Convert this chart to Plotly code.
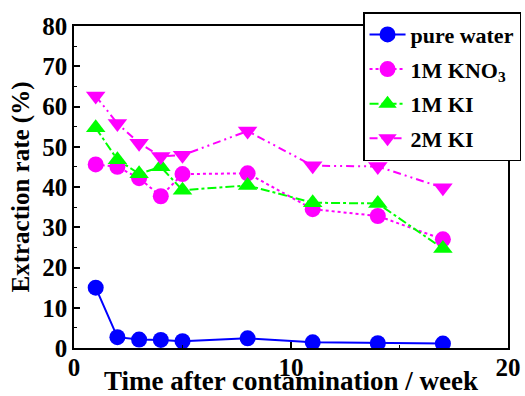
import plotly.graph_objects as go

weeks = [1, 2, 3, 4, 5, 8, 11, 14, 17]
pure_water = [15.0, 2.7, 2.1, 2.0, 1.7, 2.4, 1.4, 1.2, 1.1]
kno3_1m = [45.6, 45.0, 42.2, 37.7, 43.2, 43.4, 34.5, 32.8, 27.0]
ki_1m = [54.7, 46.8, 43.3, 45.0, 39.2, 40.4, 36.1, 35.9, 24.7]
ki_2m = [62.6, 55.8, 50.9, 47.6, 47.9, 53.9, 45.3, 45.1, 39.8]

series_names = ["pure water", "1M KNO<sub>3</sub>", "1M KI", "2M KI"]
x_ticks = [0, 10, 20]
y_ticks = [0, 10, 20, 30, 40, 50, 60, 70, 80]

BLUE = "#0000ff"
MAG = "#ff00ff"
GREEN = "#00ff00"
FONT = "Liberation Serif"

fig = go.Figure()
fig.add_trace(go.Scatter(x=weeks, y=pure_water, name=series_names[0], mode="lines+markers",
                         legendgroup="a",
                         line=dict(color=BLUE, width=2, dash="solid"),
                         marker=dict(symbol="circle", size=16, color=BLUE)))
fig.add_trace(go.Scatter(x=weeks, y=kno3_1m, name=series_names[1], mode="lines+markers",
                         legendgroup="b",
                         line=dict(color=MAG, width=2, dash="dot"),
                         marker=dict(symbol="circle", size=16, color=MAG)))
fig.add_trace(go.Scatter(x=weeks, y=ki_1m, name=series_names[2], mode="lines+markers",
                         legendgroup="c",
                         line=dict(color=GREEN, width=2, dash="dashdot"),
                         marker=dict(symbol="triangle-up", size=17, color=GREEN)))
fig.add_trace(go.Scatter(x=weeks, y=ki_2m, name=series_names[3], mode="lines+markers",
                         legendgroup="d",
                         line=dict(color=MAG, width=2, dash="8px,4px,2px,4px,2px,4px"),
                         marker=dict(symbol="triangle-down", size=17, color=MAG)))

axis_common = dict(showline=True, linecolor="black", linewidth=1.5, mirror=True,
                   ticks="inside", ticklen=6, tickwidth=1.5, tickcolor="black",
                   showgrid=False, zeroline=False,
                   tickfont=dict(family=FONT, size=25, color="black", weight="bold"))

fig.update_xaxes(range=[0, 20], tickvals=x_ticks,
                 minor=dict(ticks="inside", ticklen=3, tickwidth=1.2, tickcolor="black", dtick=5),
                 ticklabelstandoff=-4,
                 title=dict(text="Time after contamination / week",
                            font=dict(family=FONT, size=27, color="black", weight="bold"), standoff=9),
                 **axis_common)
fig.update_yaxes(range=[0, 80], tickvals=y_ticks,
                 minor=dict(ticks="inside", ticklen=3, tickwidth=1.2, tickcolor="black", dtick=5),
                 title=dict(text="Extraction rate (%)",
                            font=dict(family=FONT, size=25, color="black", weight="bold"), standoff=6),
                 **axis_common)

fig.update_layout(
    width=525, height=396,
    margin=dict(l=74, r=17, t=26, b=48, autoexpand=False),
    plot_bgcolor="white", paper_bgcolor="white",
    showlegend=True,
    legend=dict(x=0.666, y=1.043, xanchor="left", yanchor="top",
                bgcolor="white", bordercolor="black", borderwidth=1.5,
                font=dict(family=FONT, size=22, color="black", weight="bold"),
                traceorder="grouped", tracegroupgap=3, itemwidth=36),
)

fig.write_html("out.html", post_script="document.body.style.margin='0';",
               config={"displayModeBar": False})
